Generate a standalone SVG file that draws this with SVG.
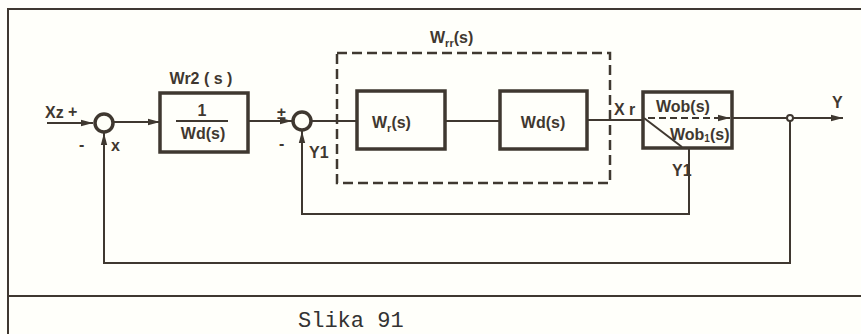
<svg xmlns="http://www.w3.org/2000/svg" width="861" height="334" viewBox="0 0 861 334">
<defs>
<marker id="ah" viewBox="0 0 12 8" refX="12" refY="4" markerWidth="12" markerHeight="8" markerUnits="userSpaceOnUse" orient="auto">
<path d="M0,0.8 L12,4 L0,7.2 Z" fill="#3f3830"/>
</marker>
<style>
.ln{fill:none;stroke:#3f3830;stroke-width:2}
.blk{fill:none;stroke:#3f3830;stroke-width:3.5}
.sum{fill:#fffff8;stroke:#3f3830;stroke-width:3.5}
.dash{fill:none;stroke:#3f3830;stroke-width:2.5;stroke-dasharray:10 5}
.t{font-family:"Liberation Sans",Arial,sans-serif;font-weight:bold;fill:#3f3830;font-size:16px}
.cap{font-family:"Liberation Mono","Courier New",monospace;fill:#333;font-size:22px}
</style>
</defs>
<rect x="0" y="0" width="861" height="334" fill="#fffffa"/>
<g id="frame">
<path class="ln" d="M861,9 H8 V334 M8,296 H861"/>
</g>
<g id="connectors">
<path class="ln" d="M47,123 H93" marker-end="url(#ah)"/>
<path class="ln" d="M114,122 H160" marker-end="url(#ah)"/>
<path class="ln" d="M248,121 H292" marker-end="url(#ah)"/>
<path class="ln" d="M312,121 H357"/>
<path class="ln" d="M445,121 H500"/>
<path class="ln" d="M587,120 H643"/>
<path class="ln" d="M732,118 H843" marker-end="url(#ah)"/>
<path class="ln" d="M689,148 V214 H302 V131" marker-end="url(#ah)"/>
<path class="ln" d="M790,121 V263 H104 V133" marker-end="url(#ah)"/>
<circle cx="790" cy="118" r="3" fill="#fffffa" stroke="#3f3830" stroke-width="2"/>
</g>
<g id="sum1">
<circle class="sum" cx="104" cy="123" r="9"/>
<text class="t" x="45" y="118">Xz</text>
<text class="t" x="68" y="117">+</text>
<text class="t" x="79" y="150">-</text>
<text class="t" x="111" y="151" font-size="13">x</text>
</g>
<g id="wr2">
<rect class="blk" x="160" y="93" width="88" height="59"/>
<text class="t" x="201" y="84" text-anchor="middle">Wr2 ( s )</text>
<text class="t" x="202" y="116" text-anchor="middle" font-size="14">1</text>
<path class="ln" d="M176,121 H228"/>
<text class="t" x="203" y="139" text-anchor="middle">Wd(s)</text>
</g>
<g id="sum2">
<circle class="sum" cx="302" cy="121" r="9"/>
<text class="t" x="277" y="119">±</text>
<text class="t" x="279" y="149">-</text>
<text class="t" x="309" y="158" font-size="13">Y1</text>
</g>
<g id="wrr">
<rect class="dash" x="337" y="53" width="273" height="130"/>
<text class="t" x="430" y="43">W<tspan font-size="11" dy="4">rr</tspan><tspan dy="-4">(s)</tspan></text>
</g>
<g id="wr">
<rect class="blk" x="357" y="91" width="88" height="58"/>
<text class="t" x="372" y="128">W<tspan font-size="11" dy="4">r</tspan><tspan dy="-4">(s)</tspan></text>
</g>
<g id="wd">
<rect class="blk" x="500" y="91" width="87" height="58"/>
<text class="t" x="543" y="128" text-anchor="middle">Wd(s)</text>
</g>
<g id="wob">
<text class="t" x="614" y="115">X r</text>
<rect class="blk" x="643" y="92" width="89" height="56"/>
<path class="ln" d="M648,118 H720" stroke-dasharray="7 4"/>
<path class="ln" d="M718,118 H730" marker-end="url(#ah)"/>
<path class="ln" d="M644,118 L682,147"/>
<text class="t" x="656" y="112">Wob(s)</text>
<text class="t" x="670" y="140" font-size="15">Wob<tspan font-size="10" dy="2">1</tspan><tspan dy="-2">(s)</tspan></text>
<text class="t" x="672" y="176" font-size="13">Y1</text>
</g>
<g id="out">
<text class="t" x="832" y="108">Y</text>
</g>
<text class="cap" x="298" y="327">Slika 91</text>
</svg>
